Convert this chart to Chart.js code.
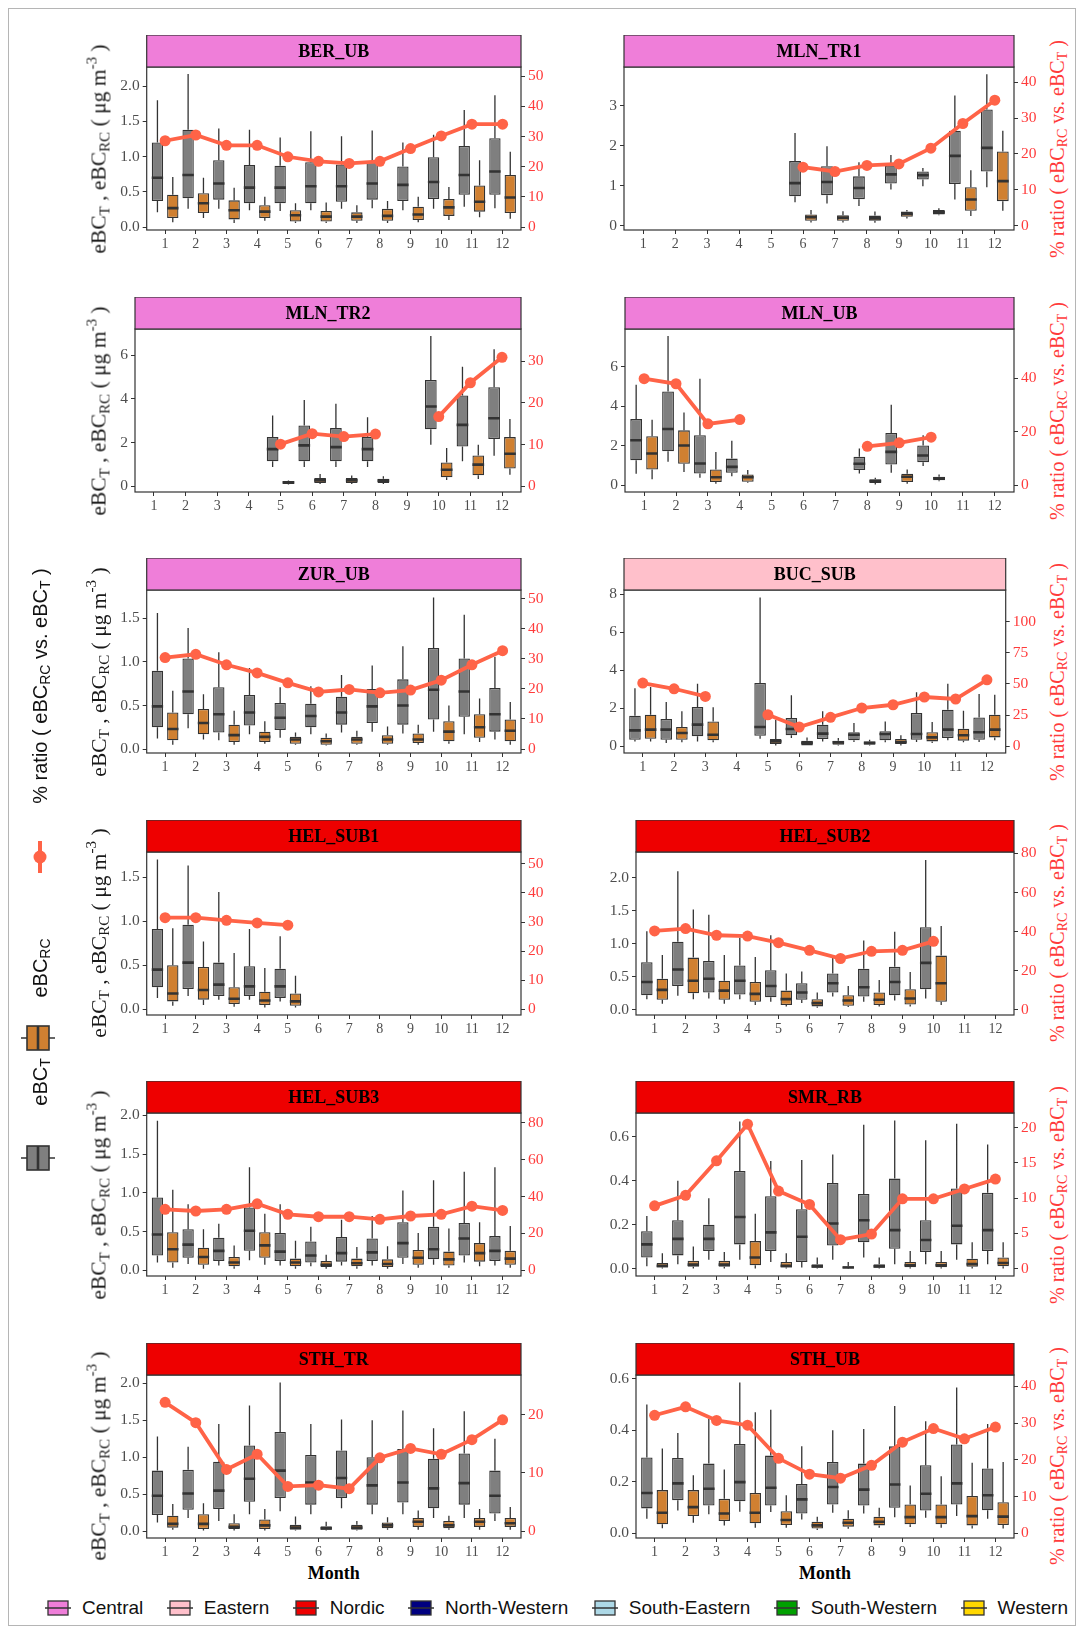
<!DOCTYPE html>
<html>
<head>
<meta charset="utf-8">
<script src="https://cdn.jsdelivr.net/npm/chart.js@4.4.1/dist/chart.umd.min.js"></script>
<style>
  body { margin: 0; background: #fff; }
  #fig { position: relative; width: 1080px; height: 1630px; overflow: hidden; font-family: "Liberation Serif", serif; }
  .frame { position: absolute; left: 8px; top: 8px; width: 1068px; height: 1618px; border: 1px solid #b5b5b5; box-sizing: border-box; }
  canvas { position: absolute; }
  .rot { position: absolute; white-space: nowrap; transform: translate(-50%, -50%) rotate(-90deg); }
  .ytl { font-size: 21.5px; color: #1a1a1a; }
  .ytr { font-size: 20px; color: #ff3b3b; }
  .sans { font-family: "Liberation Sans", Arial, sans-serif; font-size: 20px; color: #111; }
  sub { font-size: 70%; vertical-align: -0.25em; line-height: 0; }
  sup { font-size: 70%; vertical-align: 0.6em; line-height: 0; }
  .xt { position: absolute; transform: translate(-50%, -50%); font-weight: bold; font-size: 18px; color: #000; }
  .key { position: absolute; }
  #legend { position: absolute; left: 44px; width: 1024px; top: 1596px; height: 24px; display: flex; justify-content: space-between; align-items: center;
            font-family: "Liberation Sans", Arial, sans-serif; font-size: 19px; color: #111; }
  #legend .item { display: flex; align-items: center; gap: 10px; }
</style>
</head>
<body>
<div id="fig">
  <div class="frame"></div>
  <div id="legend"></div>
</div>
<script>
// Місяці та регіони
const months = [1, 2, 3, 4, 5, 6, 7, 8, 9, 10, 11, 12];
const regions = ['Central', 'Eastern', 'Nordic', 'North-Western', 'South-Eastern', 'South-Western', 'Western'];
const regionColors = ['#ef7ed9', '#ffc0cb', '#ee0000', '#000080', '#add8e6', '#00a000', '#ffd700'];

// Статистика боксів по місяцях: [min, q1, медіана, q3, max], null = немає даних
const BER_UB_T = [[0.21,0.37,0.70,1.20,1.80],[0.26,0.41,0.74,1.38,2.17],[0.26,0.39,0.62,0.95,1.40],[0.24,0.34,0.56,0.88,1.38],[0.23,0.34,0.56,0.87,1.27],[0.24,0.34,0.58,0.92,1.36],[0.26,0.36,0.58,0.89,1.29],[0.27,0.39,0.62,0.93,1.37],[0.24,0.37,0.60,0.86,1.20],[0.26,0.40,0.64,0.99,1.31],[0.29,0.46,0.74,1.15,1.66],[0.27,0.46,0.79,1.26,1.87]];
const BER_UB_RC = [[0.07,0.13,0.27,0.46,0.71],[0.13,0.20,0.34,0.48,0.70],[0.06,0.11,0.24,0.38,0.56],[0.09,0.13,0.22,0.31,0.43],[0.06,0.08,0.17,0.24,0.34],[0.06,0.08,0.15,0.23,0.35],[0.06,0.09,0.15,0.21,0.31],[0.06,0.09,0.16,0.26,0.37],[0.07,0.10,0.18,0.29,0.43],[0.10,0.16,0.28,0.40,0.57],[0.14,0.22,0.36,0.59,0.95],[0.12,0.20,0.42,0.74,1.07]];
const BER_UB_RATIO = [28.6,30.5,27.1,27.1,23.3,21.8,21.1,21.8,26.0,30.2,34.1,34.1];

const MLN_TR1_T = [null,null,null,null,null,[0.58,0.73,1.06,1.61,2.31],[0.55,0.76,1.09,1.48,1.98],[0.49,0.66,0.94,1.23,1.58],[0.90,1.05,1.28,1.50,1.76],[0.98,1.15,1.26,1.35,1.44],[0.65,1.04,1.74,2.37,3.25],[0.96,1.35,1.94,2.90,3.78]];
const MLN_TR1_RC = [null,null,null,null,null,[0.08,0.12,0.21,0.28,0.39],[0.08,0.12,0.20,0.26,0.36],[0.07,0.12,0.18,0.25,0.35],[0.18,0.22,0.29,0.35,0.39],[0.26,0.28,0.33,0.39,0.43],[0.24,0.37,0.65,0.96,1.38],[0.37,0.61,1.11,1.85,2.37]];
const MLN_TR1_RATIO = [null,null,null,null,null,16.3,15.1,16.8,17.2,21.6,28.5,35.0];

const MLN_TR2_T = [null,null,null,null,[0.88,1.14,1.70,2.25,3.24],[0.88,1.14,1.87,2.78,3.95],[0.88,1.14,1.79,2.66,3.77],[0.88,1.14,1.70,2.25,3.16],null,[1.90,2.61,3.65,4.86,6.87],[1.14,1.82,2.81,4.15,5.47],[1.40,2.16,3.11,4.53,6.27]];
const MLN_TR2_RC = [null,null,null,null,[0.08,0.11,0.18,0.23,0.26],[0.11,0.15,0.27,0.38,0.56],[0.11,0.15,0.27,0.38,0.49],[0.11,0.15,0.26,0.35,0.46],null,[0.29,0.41,0.76,1.09,1.75],[0.33,0.50,0.99,1.41,1.90],[0.53,0.81,1.49,2.25,3.08]];
const MLN_TR2_RATIO = [null,null,null,null,10.1,12.6,11.9,12.5,null,16.7,24.8,30.9];

const MLN_UB_T = [[0.57,1.26,2.27,3.34,5.08],[1.18,1.71,2.84,4.74,7.55],[0.37,0.59,1.09,2.52,5.38],[0.45,0.62,0.92,1.34,2.25],null,null,null,[0.59,0.76,1.08,1.43,1.85],[0.62,1.04,1.68,2.64,4.07],[0.96,1.16,1.50,2.00,2.52],null,null];
const MLN_UB_RC = [[0.29,0.79,1.60,2.47,3.31],[0.66,1.08,2.00,2.77,3.68],[0.07,0.15,0.40,0.79,1.68],[0.12,0.17,0.40,0.54,0.76],null,null,null,[0.03,0.10,0.20,0.29,0.37],[0.07,0.15,0.42,0.57,0.79],[0.20,0.24,0.34,0.42,0.54],null,null];
const MLN_UB_RATIO = [39.8,37.9,22.9,24.5,null,null,null,14.5,15.8,17.9,null,null];

const ZUR_UB_T = [[0.12,0.25,0.49,0.90,1.56],[0.24,0.40,0.66,1.04,1.39],[0.10,0.19,0.40,0.71,1.11],[0.17,0.27,0.42,0.62,0.93],[0.13,0.22,0.36,0.53,0.71],[0.17,0.25,0.38,0.52,0.72],[0.19,0.28,0.42,0.60,0.85],[0.20,0.30,0.49,0.69,0.96],[0.18,0.28,0.50,0.80,1.18],[0.20,0.34,0.68,1.16,1.74],[0.17,0.37,0.66,1.04,1.54],[0.11,0.20,0.40,0.70,1.06]];
const ZUR_UB_RC = [[0.05,0.10,0.23,0.42,0.67],[0.11,0.17,0.30,0.46,0.63],[0.05,0.08,0.16,0.28,0.44],[0.06,0.08,0.14,0.20,0.32],[0.05,0.06,0.11,0.14,0.19],[0.04,0.05,0.09,0.13,0.18],[0.05,0.06,0.11,0.14,0.21],[0.05,0.06,0.11,0.16,0.26],[0.05,0.07,0.11,0.18,0.28],[0.06,0.09,0.20,0.32,0.50],[0.08,0.13,0.25,0.40,0.58],[0.05,0.09,0.21,0.34,0.54]];
const ZUR_UB_RATIO = [30.4,31.5,28.0,25.3,22.0,19.0,19.8,18.7,19.6,22.9,28.0,32.7];

const BUC_SUB_T = [[0.26,0.35,0.84,1.61,3.06],[0.18,0.35,0.88,1.44,2.33],[0.26,0.53,1.14,2.07,3.29],null,[0.40,0.56,1.02,3.33,7.83],[0.44,0.58,0.91,1.49,2.68],[0.26,0.39,0.67,1.14,1.84],[0.23,0.32,0.61,0.74,1.23],[0.21,0.32,0.65,0.79,1.31],[0.23,0.35,0.65,1.75,2.85],[0.32,0.44,0.88,1.93,3.29],[0.23,0.35,0.74,1.52,2.75]];
const BUC_SUB_RC = [[0.26,0.40,0.88,1.66,3.12],[0.21,0.35,0.70,1.02,1.84],[0.21,0.32,0.61,1.31,2.05],null,[0.05,0.12,0.26,0.39,1.40],[0.04,0.05,0.18,0.30,0.47],[0.05,0.09,0.21,0.30,0.44],[0.05,0.09,0.18,0.26,0.35],[0.05,0.12,0.23,0.39,0.58],[0.18,0.26,0.47,0.74,1.28],[0.21,0.30,0.58,0.93,1.87],[0.32,0.47,0.88,1.66,2.71]];
const BUC_SUB_RATIO = [50.7,46.1,40.0,null,25.3,15.5,23.2,30.7,33.3,39.5,37.9,53.3];

const HEL_SUB1_T = [[0.13,0.25,0.45,0.91,1.70],[0.15,0.23,0.53,0.96,1.63],[0.11,0.15,0.28,0.53,1.33],[0.11,0.15,0.26,0.49,0.91],[0.09,0.13,0.26,0.46,0.83],null,null,null,null,null,null,null];
const HEL_SUB1_RC = [[0.04,0.09,0.18,0.50,0.92],[0.05,0.11,0.22,0.48,0.77],[0.03,0.06,0.12,0.25,0.64],[0.02,0.05,0.10,0.20,0.47],[0.02,0.04,0.09,0.18,0.38],null,null,null,null,null,null,null];
const HEL_SUB1_RATIO = [31.5,31.5,30.6,29.7,28.9,null,null,null,null,null,null,null];

const HEL_SUB2_T = [[0.16,0.22,0.42,0.72,1.19],[0.21,0.36,0.61,1.03,2.10],[0.17,0.26,0.47,0.74,1.44],[0.16,0.23,0.44,0.67,1.09],[0.12,0.19,0.36,0.60,1.13],[0.10,0.15,0.26,0.40,0.58],[0.20,0.26,0.40,0.55,0.79],[0.12,0.20,0.34,0.62,1.05],[0.14,0.22,0.42,0.65,1.18],[0.17,0.31,0.71,1.25,2.27],null,null];
const HEL_SUB2_RC = [[0.09,0.15,0.30,0.47,0.83],[0.16,0.25,0.44,0.79,1.52],[0.09,0.15,0.29,0.44,0.83],[0.07,0.12,0.24,0.42,0.80],[0.05,0.07,0.16,0.29,0.55],[0.03,0.05,0.10,0.16,0.26],[0.04,0.06,0.14,0.22,0.36],[0.05,0.07,0.15,0.26,0.45],[0.05,0.08,0.17,0.31,0.57],[0.07,0.12,0.40,0.82,1.27],null,null];
const HEL_SUB2_RATIO = [40.3,41.5,38.1,37.7,34.3,30.4,26.2,29.9,30.4,35.0,null,null];

const HEL_SUB3_T = [[0.10,0.19,0.46,0.94,1.93],[0.08,0.16,0.33,0.53,0.85],[0.06,0.12,0.25,0.42,0.60],[0.13,0.25,0.51,0.81,1.33],[0.06,0.12,0.24,0.48,0.85],[0.05,0.10,0.19,0.37,0.56],[0.06,0.11,0.22,0.43,0.65],[0.06,0.12,0.23,0.41,0.70],[0.08,0.16,0.35,0.62,1.03],[0.07,0.14,0.27,0.56,1.16],[0.10,0.19,0.41,0.61,1.27],[0.06,0.12,0.25,0.44,1.33]];
const HEL_SUB3_RC = [[0.03,0.10,0.27,0.49,1.04],[0.02,0.07,0.17,0.29,0.53],[0.02,0.05,0.10,0.17,0.32],[0.07,0.16,0.32,0.49,0.73],[0.02,0.05,0.10,0.15,0.38],[0.02,0.04,0.07,0.12,0.20],[0.02,0.05,0.09,0.15,0.30],[0.02,0.04,0.08,0.14,0.31],[0.03,0.07,0.16,0.26,0.48],[0.03,0.06,0.14,0.24,0.54],[0.05,0.11,0.22,0.35,0.62],[0.03,0.07,0.15,0.25,0.57]];
const HEL_SUB3_RATIO = [33.0,32.1,33.0,36.0,30.3,29.0,29.0,27.6,29.4,30.3,34.7,32.4];

const SMR_RB_T = [[0.01,0.05,0.11,0.17,0.24],[0.02,0.06,0.135,0.22,0.40],[0.04,0.08,0.135,0.20,0.32],[0.04,0.11,0.235,0.445,0.67],[0.03,0.08,0.165,0.33,0.49],[0.005,0.03,0.145,0.27,0.495],[0.04,0.105,0.205,0.39,0.52],[0.05,0.12,0.22,0.34,0.655],[0.02,0.09,0.175,0.41,0.675],[0.02,0.075,0.13,0.22,0.585],[0.04,0.11,0.195,0.365,0.66],[0.02,0.08,0.175,0.345,0.565]];
const SMR_RB_RC = [[0.0,0.005,0.012,0.025,0.07],[0.0,0.008,0.018,0.035,0.10],[0.0,0.008,0.018,0.035,0.075],[0.0,0.015,0.05,0.125,0.25],[0.0,0.005,0.012,0.03,0.07],[0.0,0.004,0.01,0.02,0.05],[0.0,0.002,0.005,0.01,0.03],[0.0,0.004,0.01,0.02,0.05],[0.0,0.006,0.015,0.03,0.08],[0.0,0.006,0.015,0.03,0.08],[0.0,0.008,0.02,0.045,0.12],[0.0,0.01,0.025,0.05,0.12]];
const SMR_RB_RATIO = [8.9,10.4,15.3,20.5,11.0,9.1,4.1,4.9,9.9,9.9,11.3,12.7];

const STH_TR_T = [[0.12,0.22,0.48,0.82,1.28],[0.18,0.29,0.51,0.83,1.14],[0.14,0.30,0.55,0.94,1.45],[0.23,0.40,0.71,1.16,1.70],[0.27,0.45,0.82,1.34,2.01],[0.23,0.36,0.66,1.03,1.45],[0.31,0.45,0.72,1.09,1.51],[0.23,0.36,0.62,1.00,1.50],[0.23,0.39,0.66,1.11,1.63],[0.18,0.31,0.58,0.98,1.39],[0.18,0.36,0.65,1.05,1.62],[0.14,0.24,0.48,0.82,1.25]];
const STH_TR_RC = [[0.02,0.05,0.10,0.21,0.37],[0.01,0.03,0.10,0.23,0.38],[0.01,0.03,0.06,0.11,0.23],[0.01,0.03,0.08,0.16,0.30],[0.01,0.02,0.05,0.09,0.20],[0.01,0.02,0.04,0.07,0.13],[0.01,0.02,0.05,0.09,0.14],[0.02,0.04,0.08,0.12,0.19],[0.02,0.06,0.13,0.18,0.28],[0.02,0.04,0.08,0.14,0.21],[0.02,0.06,0.13,0.18,0.30],[0.02,0.06,0.11,0.18,0.33]];
const STH_TR_RATIO = [22.1,18.6,10.6,13.2,7.7,7.9,7.3,12.6,14.2,13.2,15.7,19.1];

const STH_UB_T = [[0.057,0.097,0.157,0.295,0.50],[0.089,0.129,0.194,0.293,0.39],[0.074,0.108,0.173,0.271,0.444],[0.084,0.125,0.199,0.347,0.586],[0.083,0.108,0.177,0.302,0.48],[0.054,0.077,0.132,0.192,0.338],[0.08,0.112,0.18,0.277,0.40],[0.077,0.108,0.17,0.271,0.405],[0.063,0.099,0.19,0.338,0.495],[0.061,0.089,0.154,0.265,0.435],[0.067,0.112,0.194,0.345,0.566],[0.057,0.09,0.148,0.252,0.425]];
const STH_UB_RC = [[0.02,0.035,0.08,0.168,0.33],[0.041,0.067,0.102,0.168,0.226],[0.031,0.048,0.077,0.134,0.248],[0.022,0.039,0.08,0.157,0.47],[0.022,0.032,0.052,0.086,0.148],[0.013,0.019,0.031,0.045,0.065],[0.018,0.026,0.041,0.057,0.09],[0.022,0.031,0.045,0.065,0.099],[0.025,0.035,0.063,0.112,0.186],[0.022,0.035,0.063,0.112,0.222],[0.019,0.031,0.067,0.145,0.274],[0.019,0.032,0.065,0.121,0.277]];
const STH_UB_RATIO = [32.1,34.4,30.7,29.4,20.4,16.1,15.0,18.5,24.8,28.5,25.7,28.9];

// Підписи поділок осей
const TICKS_0_2 = ['0.0', '0.5', '1.0', '1.5', '2.0'];
const TICKS_0_15 = ['0.0', '0.5', '1.0', '1.5'];
const TICKS_0_06 = ['0.0', '0.2', '0.4', '0.6'];
const TICKS_0_3 = ['0', '1', '2', '3'];
const TICKS_0_6 = ['0', '2', '4', '6'];
const TICKS_0_8 = ['0', '2', '4', '6', '8'];
const RTICKS_50 = ['0', '10', '20', '30', '40', '50'];
const RTICKS_40 = ['0', '10', '20', '30', '40'];
const RTICKS_30 = ['0', '10', '20', '30'];
const RTICKS_20 = ['0', '10', '20'];
const RTICKS_40_BY20 = ['0', '20', '40'];
const RTICKS_80 = ['0', '20', '40', '60', '80'];
const RTICKS_100 = ['0', '25', '50', '75', '100'];
const RTICKS_SMR = ['0', '5', '10', '15', '20'];

// Панелі: права вісь = ліва вісь * k
const panels = [
  { name: 'BER_UB',   region: 'Central', row: 0, col: 0, t: BER_UB_T,   rc: BER_UB_RC,   ratio: BER_UB_RATIO,   lt: TICKS_0_2,  rt: RTICKS_50,  yMin: -0.04, yMax: 2.27, k: 23.35 },
  { name: 'MLN_TR1',  region: 'Central', row: 0, col: 1, t: MLN_TR1_T,  rc: MLN_TR1_RC,  ratio: MLN_TR1_RATIO,  lt: TICKS_0_3,  rt: RTICKS_40,  yMin: -0.11, yMax: 3.96, k: 11.18, pl: 624 },
  { name: 'MLN_TR2',  region: 'Central', row: 1, col: 0, t: MLN_TR2_T,  rc: MLN_TR2_RC,  ratio: MLN_TR2_RATIO,  lt: TICKS_0_6,  rt: RTICKS_30,  yMin: -0.26, yMax: 7.19, k: 5.24, pl: 135 },
  { name: 'MLN_UB',   region: 'Central', row: 1, col: 1, t: MLN_UB_T,   rc: MLN_UB_RC,   ratio: MLN_UB_RATIO,   lt: TICKS_0_6,  rt: RTICKS_40_BY20, yMin: -0.35, yMax: 7.9, k: 7.39, pl: 625 },
  { name: 'ZUR_UB',   region: 'Central', row: 2, col: 0, t: ZUR_UB_T,   rc: ZUR_UB_RC,   ratio: ZUR_UB_RATIO,   lt: TICKS_0_15, rt: RTICKS_50,  yMin: -0.045, yMax: 1.825, k: 28.96 },
  { name: 'BUC_SUB',  region: 'Eastern', row: 2, col: 1, t: BUC_SUB_T,  rc: BUC_SUB_RC,  ratio: BUC_SUB_RATIO,  lt: TICKS_0_8,  rt: RTICKS_100, yMin: -0.35, yMax: 8.22, k: 15.23, pl: 624, pr: 1005.7 },
  { name: 'HEL_SUB1', region: 'Nordic',  row: 3, col: 0, t: HEL_SUB1_T, rc: HEL_SUB1_RC, ratio: HEL_SUB1_RATIO, lt: TICKS_0_15, rt: RTICKS_50,  yMin: -0.064, yMax: 1.784, k: 30.3 },
  { name: 'HEL_SUB2', region: 'Nordic',  row: 3, col: 1, t: HEL_SUB2_T, rc: HEL_SUB2_RC, ratio: HEL_SUB2_RATIO, lt: TICKS_0_2,  rt: RTICKS_80,  yMin: -0.08, yMax: 2.39, k: 33.76 },
  { name: 'HEL_SUB3', region: 'Nordic',  row: 4, col: 0, t: HEL_SUB3_T, rc: HEL_SUB3_RC, ratio: HEL_SUB3_RATIO, lt: TICKS_0_2,  rt: RTICKS_80,  yMin: -0.075, yMax: 2.03, k: 42.0 },
  { name: 'SMR_RB',   region: 'Nordic',  row: 4, col: 1, t: SMR_RB_T,   rc: SMR_RB_RC,   ratio: SMR_RB_RATIO,   lt: TICKS_0_06, rt: RTICKS_SMR, yMin: -0.034, yMax: 0.709, k: 31.15 },
  { name: 'STH_TR',   region: 'Nordic',  row: 5, col: 0, t: STH_TR_T,   rc: STH_TR_RC,   ratio: STH_TR_RATIO,   lt: TICKS_0_2,  rt: RTICKS_20,  yMin: -0.09, yMax: 2.11, k: 12.69 },
  { name: 'STH_UB',   region: 'Nordic',  row: 5, col: 1, t: STH_UB_T,   rc: STH_UB_RC,   ratio: STH_UB_RATIO,   lt: TICKS_0_06, rt: RTICKS_40,  yMin: -0.018, yMax: 0.615, k: 70.0 }
];

// Кольори та розміри
const EDGE = '#333333', GREY = '#7f7f7f', ORANGE = '#d08031', LINE = '#ff6347', RED = '#ff3b3b', TICK = '#4d4d4d';
const STRIP_H = 32, PLOT_H = 163, XAXIS_H = 24;
const ROW_TOP = [35, 297, 558, 819.5, 1081, 1342.5];
const COL = [
  { cl: 105, cr: 560, pl: 146.7, pr: 521 },
  { cl: 585, cr: 1045, pl: 636, pr: 1014 }
];

Chart.defaults.font.family = '"Liberation Serif", "Times New Roman", serif';

// Вуса, медіани, рамка і смуга з назвою
const boxplotPlugin = {
  id: 'boxplot',
  beforeDatasetDraw(chart, args) {
    const ds = chart.data.datasets[args.index];
    if (!ds.stats) return;
    const ctx = chart.ctx, ys = chart.scales.y;
    ctx.save();
    ctx.strokeStyle = EDGE;
    ctx.lineWidth = 1.3;
    ctx.beginPath();
    args.meta.data.forEach((el, i) => {
      const s = ds.stats[i];
      ctx.moveTo(el.x, ys.getPixelForValue(s[0]));
      ctx.lineTo(el.x, ys.getPixelForValue(s[1]));
      ctx.moveTo(el.x, ys.getPixelForValue(s[3]));
      ctx.lineTo(el.x, ys.getPixelForValue(s[4]));
    });
    ctx.stroke();
    ctx.restore();
  },
  afterDatasetDraw(chart, args) {
    const ds = chart.data.datasets[args.index];
    if (!ds.stats) return;
    const ctx = chart.ctx, ys = chart.scales.y;
    ctx.save();
    ctx.strokeStyle = EDGE;
    ctx.lineWidth = 2.6;
    ctx.beginPath();
    args.meta.data.forEach((el, i) => {
      const y = ys.getPixelForValue(ds.stats[i][2]);
      ctx.moveTo(el.x - el.width / 2, y);
      ctx.lineTo(el.x + el.width / 2, y);
    });
    ctx.stroke();
    ctx.restore();
  },
  afterDraw(chart) {
    const o = chart.options.plugins.boxplot;
    const a = chart.chartArea, ctx = chart.ctx;
    const w = a.right - a.left;
    ctx.save();
    ctx.strokeStyle = EDGE;
    ctx.lineWidth = 1.2;
    ctx.strokeRect(a.left, a.top, w, a.bottom - a.top);
    ctx.fillStyle = o.color;
    ctx.fillRect(a.left, a.top - STRIP_H, w, STRIP_H);
    ctx.strokeRect(a.left, a.top - STRIP_H, w, STRIP_H);
    ctx.fillStyle = '#000';
    ctx.font = 'bold 18px "Liberation Serif", serif';
    ctx.textAlign = 'center';
    ctx.textBaseline = 'middle';
    ctx.fillText(o.title, a.left + w / 2, a.top - STRIP_H / 2 + 1);
    ctx.restore();
  }
};
Chart.register(boxplotPlugin);

// Готує плаваючі бари (q1..q3) лише для місяців з даними
function boxData(stats) {
  const pts = [], kept = [];
  stats.forEach((s, i) => {
    if (s) {
      pts.push({ x: months[i], y: [s[1], s[3]] });
      kept.push(s);
    }
  });
  return { pts, kept };
}

function rotLabel(html, cls, cx, cy) {
  const d = document.createElement('div');
  d.className = 'rot ' + cls;
  d.style.left = cx + 'px';
  d.style.top = cy + 'px';
  d.innerHTML = html;
  fig.appendChild(d);
}

const fig = document.getElementById('fig');

panels.forEach(p => {
  const c = COL[p.col];
  const pl = p.pl || c.pl, pr = p.pr || c.pr;
  const top = ROW_TOP[p.row];
  const canvas = document.createElement('canvas');
  canvas.width = c.cr - c.cl;
  canvas.height = STRIP_H + PLOT_H + XAXIS_H;
  canvas.style.left = c.cl + 'px';
  canvas.style.top = top + 'px';
  fig.appendChild(canvas);

  const grey = boxData(p.t), orange = boxData(p.rc);
  const leftVals = p.lt.map(parseFloat), rightVals = p.rt.map(parseFloat);
  const boxStyle = { borderColor: EDGE, borderWidth: 1.3, borderSkipped: false, yAxisID: 'y',
                     categoryPercentage: 1.0, barPercentage: 0.74 };

  new Chart(canvas.getContext('2d'), {
    type: 'bar',
    data: {
      datasets: [
        { type: 'line', label: 'ratio', order: 0, yAxisID: 'y2',
          data: months.map((m, i) => ({ x: m, y: p.ratio[i] })),
          borderColor: LINE, backgroundColor: LINE, borderWidth: 3.8,
          pointRadius: 5.5, pointBorderWidth: 0, pointBackgroundColor: LINE, spanGaps: false },
        Object.assign({ label: 'eBCT', order: 1, data: grey.pts, stats: grey.kept, backgroundColor: GREY }, boxStyle),
        Object.assign({ label: 'eBCRC', order: 2, data: orange.pts, stats: orange.kept, backgroundColor: ORANGE }, boxStyle)
      ]
    },
    options: {
      responsive: false,
      animation: false,
      layout: { padding: { top: STRIP_H, left: 0, right: 0, bottom: 0 } },
      plugins: {
        legend: { display: false },
        tooltip: { enabled: false },
        boxplot: { title: p.name, color: regionColors[regions.indexOf(p.region)] }
      },
      scales: {
        x: {
          type: 'linear', min: 0.4, max: 12.6, offset: false,
          afterBuildTicks: s => { s.ticks = months.map(v => ({ value: v })); },
          afterFit: s => { s.height = XAXIS_H; },
          grid: { drawOnChartArea: false, drawTicks: true, tickLength: 4, color: EDGE, offset: false },
          border: { display: false },
          ticks: { color: TICK, font: { size: 14 }, padding: 2, autoSkip: false, maxRotation: 0, callback: v => String(v) }
        },
        y: {
          type: 'linear', position: 'left', min: p.yMin, max: p.yMax,
          afterBuildTicks: s => { s.ticks = leftVals.map(v => ({ value: v })); },
          afterFit: s => { s.width = pl - c.cl; },
          grid: { drawOnChartArea: false, drawTicks: true, tickLength: 4, color: EDGE },
          border: { display: false },
          ticks: { color: TICK, font: { size: 15.5 }, padding: 3, callback: (v, i) => p.lt[i] }
        },
        y2: {
          type: 'linear', position: 'right', min: p.yMin * p.k, max: p.yMax * p.k,
          afterBuildTicks: s => { s.ticks = rightVals.map(v => ({ value: v })); },
          afterFit: s => { s.width = c.cr - pr; },
          grid: { drawOnChartArea: false, drawTicks: true, tickLength: 4, color: EDGE },
          border: { display: false },
          ticks: { color: RED, font: { size: 15.5 }, padding: 3, callback: (v, i) => p.rt[i] }
        }
      }
    }
  });

  const cy = top + STRIP_H + PLOT_H / 2;
  if (p.col === 0) {
    rotLabel('eBC<sub>T</sub> , eBC<sub>RC</sub> ( μg m<sup>-3</sup> )', 'ytl', 99, cy);
  } else {
    rotLabel('% ratio ( eBC<sub>RC</sub> vs. eBC<sub>T</sub> )', 'ytr', 1057, cy);
  }
  if (p.row === ROW_TOP.length - 1) {
    const m = document.createElement('div');
    m.className = 'xt';
    m.textContent = 'Month';
    m.style.left = (pl + pr) / 2 + 'px';
    m.style.top = (top + STRIP_H + PLOT_H + 35) + 'px';
    fig.appendChild(m);
  }
});

// Ліва легенда (повернута)
rotLabel('% ratio ( eBC<sub>RC</sub> vs. eBC<sub>T</sub> )', 'sans', 40, 686);
rotLabel('eBC<sub>RC</sub>', 'sans', 40, 968);
rotLabel('eBC<sub>T</sub>', 'sans', 40, 1082);

function addKey(svg, x, y) {
  const d = document.createElement('div');
  d.className = 'key';
  d.style.left = x + 'px';
  d.style.top = y + 'px';
  d.innerHTML = svg;
  fig.appendChild(d);
}
addKey(`<svg width="20" height="34"><line x1="10" y1="1" x2="10" y2="33" stroke="${LINE}" stroke-width="4"/><circle cx="10" cy="17" r="6.5" fill="${LINE}"/></svg>`, 30, 840);
[[ORANGE, 1038], [GREY, 1158]].forEach(([col, y]) => {
  addKey(`<svg width="36" height="30"><line x1="1" y1="15" x2="35" y2="15" stroke="${EDGE}" stroke-width="1.6"/>` +
         `<rect x="7" y="3" width="22" height="24" fill="${col}" stroke="${EDGE}" stroke-width="1.6"/>` +
         `<line x1="18" y1="3" x2="18" y2="27" stroke="${EDGE}" stroke-width="2.6"/></svg>`, 20, y - 15);
});

// Нижня легенда регіонів
const legend = document.getElementById('legend');
regions.forEach((r, i) => {
  const item = document.createElement('span');
  item.className = 'item';
  item.innerHTML = `<svg width="28" height="20"><line x1="1" y1="10" x2="27" y2="10" stroke="${EDGE}" stroke-width="1.5"/>` +
                   `<rect x="4" y="3" width="20" height="14" fill="${regionColors[i]}" stroke="${EDGE}" stroke-width="1.3"/>` +
                   `<line x1="4" y1="10" x2="24" y2="10" stroke="${EDGE}" stroke-width="1.5"/></svg><span>${r}</span>`;
  legend.appendChild(item);
});
</script>
